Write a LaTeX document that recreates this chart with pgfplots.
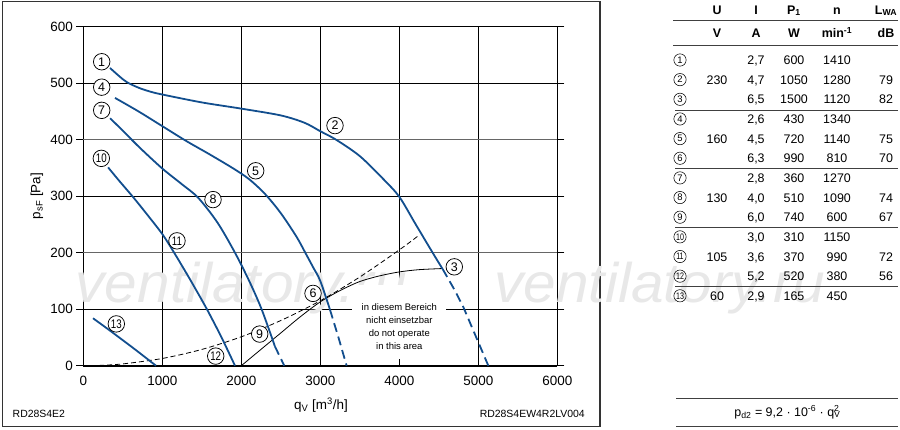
\documentclass[border=0pt]{standalone}
\usepackage{fontspec}
\setmainfont{Liberation Sans}
\usepackage{pgfplots}
\pgfplotsset{compat=1.18}
\definecolor{fanblue}{RGB}{18,78,142}
\newcommand{\fs}[1]{\fontsize{#1}{#1}\selectfont}
\newcommand{\cn}[1]{\scalebox{0.78}[1]{#1}}
\tikzset{
  lab/.style={circle, draw=black, line width=0.75bp, fill=white, inner sep=0pt, minimum size=16.5bp, font=\fs{12.5}},
  tlab/.style={circle, draw=black, line width=0.55bp, inner sep=0pt, minimum size=12.3bp, font=\fs{9.5}},
  td/.style={anchor=base, font=\fs{12.5}},
  th/.style={anchor=base, font=\fs{12.5}\bfseries},
  bluecurve/.style={fanblue, line width=1.8bp, smooth, tension=0.5},
  bluedash/.style={fanblue, line width=1.8bp, dash pattern=on 9bp off 5bp},
}
% table row: #1 index, #2 circled label, #3 U, #4 I, #5 P1, #6 n, #7 LWA
\newcommand{\trow}[7]{%
  \pgfmathsetmacro{\ry}{60+(#1-1)*19.65}%
  \pgfmathsetmacro{\rb}{\ry+4.5}%
  \node[tlab] at (680,-\ry) {#2};
  \node[td] at (717,-\rb) {#3};
  \node[td] at (756,-\rb) {#4};
  \node[td] at (794,-\rb) {#5};
  \node[td] at (837,-\rb) {#6};
  \node[td] at (886,-\rb) {#7};
}
\begin{document}
\begin{tikzpicture}[x=1bp,y=1bp]
\useasboundingbox (0,0) rectangle (900,-429);
\draw[line width=1.3bp, black!80] (2.7,-1.2) rectangle (600,-426.7);
\begin{axis}[
  at={(83.3bp,-365.7bp)}, anchor=south west,
  scale only axis, width=474bp, height=339bp,
  xmin=0, xmax=6000, ymin=0, ymax=600,
  xtick={0,1000,...,6000}, ytick={0,100,...,600},
  grid=major,
  major grid style={black, line width=0.7bp},
  axis line style={black, line width=1.2bp},
  xtick style={draw=none},
  ytick style={black, line width=0.9bp},
  tick align=outside,
  major tick length=7bp,
  ticklabel style={font=\fs{13.5}},
  /pgf/number format/assume math mode=true,
  /pgf/number format/1000 sep={},
  clip=false,
]
% heavier grey grid lines at 200 and 400
\draw[black!60, line width=1.5bp] (axis cs:0,200) -- (axis cs:6000,200);
\draw[black!60, line width=1.5bp] (axis cs:0,400) -- (axis cs:6000,400);
% watermark
\node[anchor=base west, font=\fs{56}\itshape, text=black!9, xscale=1.05, inner sep=0] at (axis cs:-100,112) {ventilatory.ru};
\node[anchor=base west, font=\fs{56}\itshape, text=black!9, xscale=1.05, inner sep=0] at (axis cs:5200,112) {ventilatory.ru};
% thick x axis line
\draw[black, line width=2.4bp] (axis cs:0,0) -- (axis cs:6000,0);
% no-operate area
\node[fill=white, inner sep=0, minimum width=94bp, minimum height=74bp] at (axis cs:4000,77) {};
\node[align=center, font=\fontsize{9.5}{13.3}\selectfont, inner sep=0] at (axis cs:4000,69)
  {in diesem Bereich\\nicht einsetzbar\\do not operate\\in this area};
% system curves
\addplot[black, line width=0.8bp, dash pattern=on 5bp off 3bp, smooth] coordinates {
 (200,0.5) (500,3.2) (1000,12.8) (1500,28.8) (2000,51.2) (2500,80) (3000,115) (3500,157) (4000,205) (4241,230)};
\addplot[black, line width=0.8bp, smooth] coordinates {
 (2000,0) (2250,29) (2500,58) (2750,87) (3000,113) (3250,133) (3500,149) (3750,159) (4000,166) (4250,170) (4549,172)};
% 230 V
\addplot[bluecurve] coordinates {
 (338,527) (450,513) (550,502) (700,492) (850,485) (1000,480) (1500,466) (2000,455) (2500,443) (2800,430) (3000,415) (3200,400) (3500,371) (3800,330) (4000,299) (4200,252) (4422,200) (4549,171)};
\addplot[bluedash] coordinates {(4549,171) (4700,134) (4810,104) (4950,58) (5127,0)};
% 160 V
\addplot[bluecurve] coordinates {
 (401,474) (700,450) (1000,424) (1300,398) (1600,374) (1900,349) (2100,330) (2300,304) (2500,270) (2700,228) (2810,200) (2910,174) (3000,150) (3123,99)};
\addplot[bluedash] coordinates {(3123,99) (3230,50) (3333,0)};
% 130 V
\addplot[bluecurve] coordinates {
 (339,438) (500,416) (714,386) (1000,349) (1250,321) (1456,297) (1700,253) (1920,200) (2100,150) (2257,100) (2426,34)};
\addplot[bluedash] coordinates {(2426,34) (2544,0)};
% 105 V
\addplot[bluecurve] coordinates {
 (314,351) (450,328) (633,298) (800,269) (1000,233) (1150,200) (1350,153) (1557,102) (1750,50) (1920,0)};
% 60 V
\addplot[bluecurve] coordinates {(123,84) (300,66) (502,45) (700,24) (920,0)};
% labels
\node[lab] at (axis cs:233,538) {1};
\node[lab] at (axis cs:3186,425) {2};
\node[lab] at (axis cs:4696,175) {3};
\node[lab] at (axis cs:233,493) {4};
\node[lab] at (axis cs:2182,345) {5};
\node[lab] at (axis cs:2908,128) {6};
\node[lab] at (axis cs:233,452) {7};
\node[lab] at (axis cs:1642,294) {8};
\node[lab] at (axis cs:2233,56) {9};
\node[lab] at (axis cs:228,367) {\cn{10}};
\node[lab] at (axis cs:1186,221) {\cn{11}};
\node[lab] at (axis cs:1676,17) {\cn{12}};
\node[lab] at (axis cs:418,74) {\cn{13}};
\end{axis}
% axis labels
\node[rotate=90, font=\fs{13.5}] at (37,-196) {p\textsubscript{sF} [Pa]};
\node[font=\fs{13.5}] at (321,-405) {q\textsubscript{V} [m\textsuperscript{3}/h]};
\node[anchor=base west, font=\fs{10.5}, inner sep=0] at (12.5,-417) {RD28S4E2};
\node[anchor=base east, font=\fs{10.5}, inner sep=0] at (585,-417) {RD28S4EW4R2LV004};
% table header
\node[th] at (717,-14) {U};
\node[th] at (756,-14) {I};
\node[th] at (837,-14) {n};
\node[th] at (794,-14) {P\textsubscript{1}};
\node[th] at (886,-14) {L\textsubscript{WA}};
\node[th] at (717,-37.5) {V};
\node[th] at (756,-37.5) {A};
\node[th] at (794,-37.5) {W};
\node[th] at (837,-37.5) {min\textsuperscript{-1}};
\node[th] at (886,-37.5) {dB};
\draw[black!75, line width=0.8bp] (673,-20.5) -- (898,-20.5);
\draw[black!75, line width=0.8bp] (673,-45) -- (898,-45);
\draw[black!75, line width=0.8bp] (675,-110) -- (898,-110);
\draw[black!75, line width=0.8bp] (675,-168.8) -- (898,-168.8);
\draw[black!75, line width=0.8bp] (675,-227.6) -- (898,-227.6);
\draw[black!75, line width=0.8bp] (675,-286.4) -- (898,-286.4);
\trow{1}{1}{}{2,7}{600}{1410}{}
\trow{2}{2}{230}{4,7}{1050}{1280}{79}
\trow{3}{3}{}{6,5}{1500}{1120}{82}
\trow{4}{4}{}{2,6}{430}{1340}{}
\trow{5}{5}{160}{4,5}{720}{1140}{75}
\trow{6}{6}{}{6,3}{990}{810}{70}
\trow{7}{7}{}{2,8}{360}{1270}{}
\trow{8}{8}{130}{4,0}{510}{1090}{74}
\trow{9}{9}{}{6,0}{740}{600}{67}
\trow{10}{\scalebox{0.75}[1]{10}}{}{3,0}{310}{1150}{}
\trow{11}{\scalebox{0.75}[1]{11}}{105}{3,6}{370}{990}{72}
\trow{12}{\scalebox{0.75}[1]{12}}{}{5,2}{520}{380}{56}
\trow{13}{\scalebox{0.75}[1]{13}}{60}{2,9}{165}{450}{}
% formula
\draw[black!75, line width=0.8bp] (676,-398) -- (898,-398);
\draw[black!75, line width=0.8bp] (676,-426) -- (898,-426);
\node[anchor=base, font=\fs{12.5}] at (787,-416) {p\textsubscript{d2} = 9,2 · 10\textsuperscript{-6} · q\rlap{\textsubscript{V}}\textsuperscript{2}};
\end{tikzpicture}
\end{document}
